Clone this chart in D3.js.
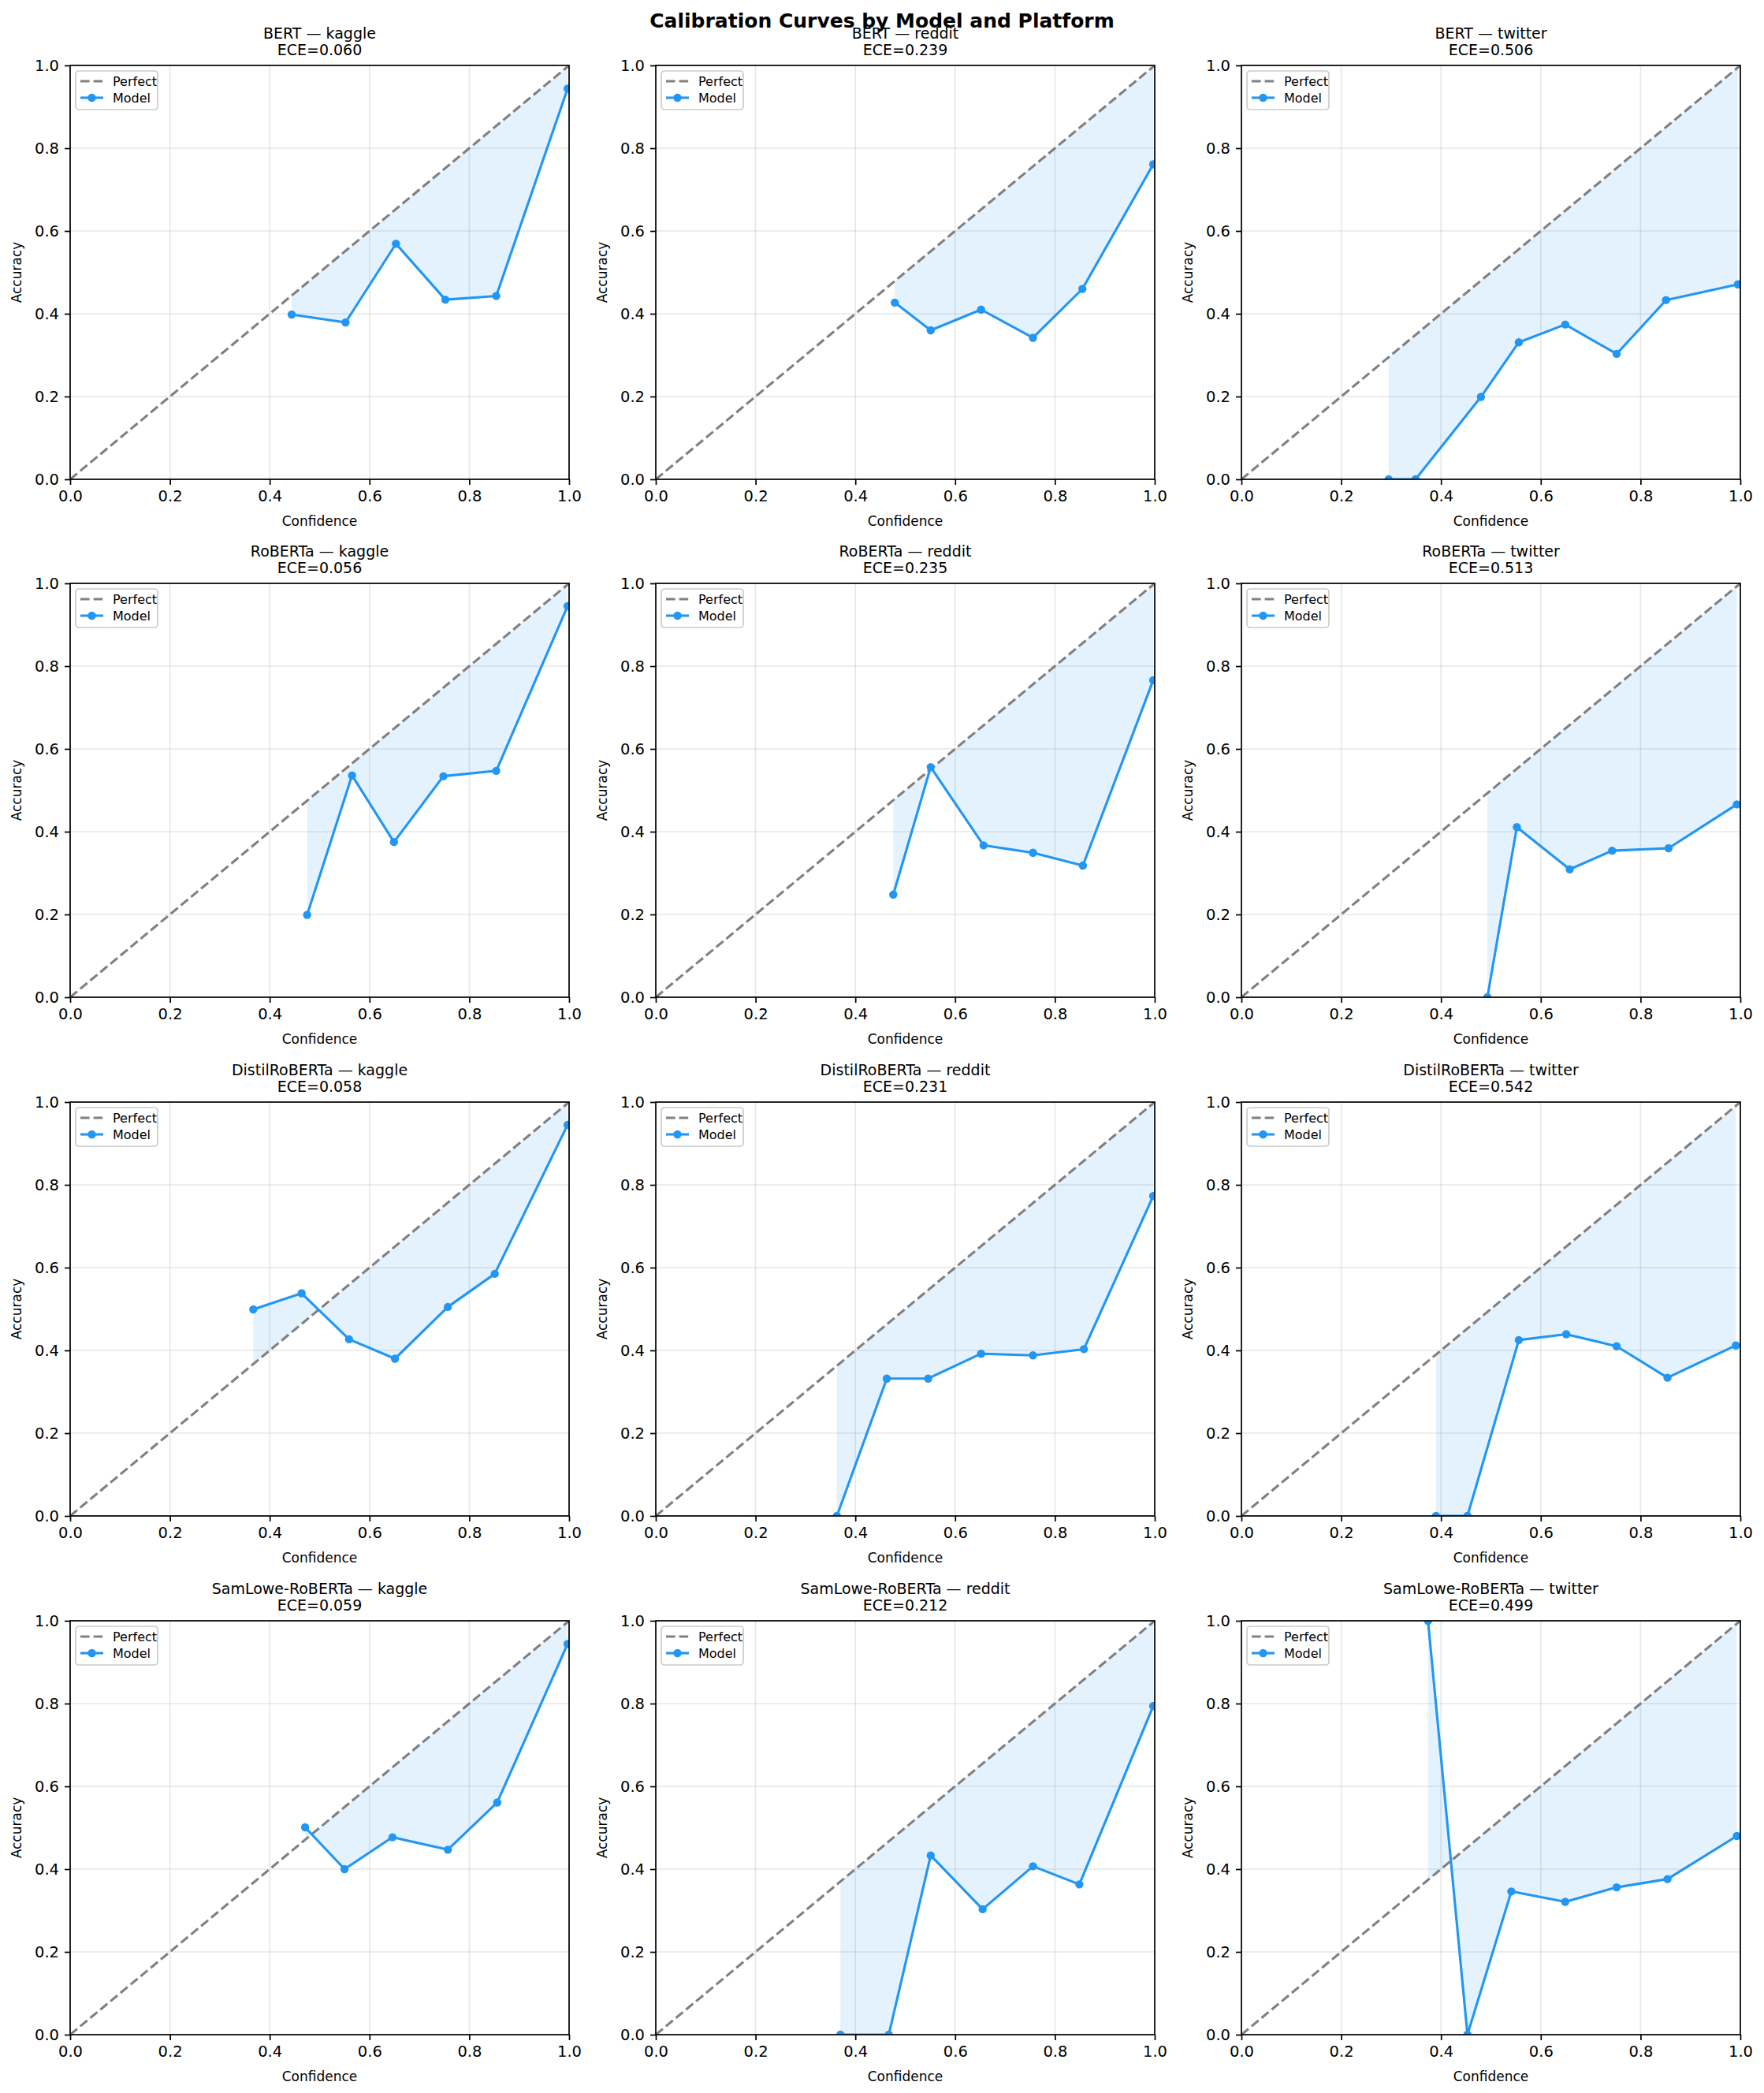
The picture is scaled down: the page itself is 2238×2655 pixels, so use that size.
<!DOCTYPE html>
<html>
<head>
<meta charset="utf-8">
<script src="https://cdn.jsdelivr.net/npm/d3@7"></script>
<style>
  html, body { margin: 0; padding: 0; background: #ffffff; }
  svg { display: block; font-family: "DejaVu Sans", sans-serif; }
</style>
</head>
<body>
<svg id="chart" width="2238" height="2655"></svg>
<script>
// ---------- DATA ----------
const models = ["BERT", "RoBERTa", "DistilRoBERTa", "SamLowe-RoBERTa"];
const platforms = ["kaggle", "reddit", "twitter"];
const chartTitle = "Calibration Curves by Model and Platform";
const tickValues = [0, 0.2, 0.4, 0.6, 0.8, 1.0];

const eceBERT = [0.060, 0.239, 0.506];
const eceRoBERTa = [0.056, 0.235, 0.513];
const eceDistil = [0.058, 0.231, 0.542];
const eceSamLowe = [0.059, 0.212, 0.499];

// confidence (x) per platform [kaggle, reddit, twitter]
const confBERT = [
  [0.444, 0.552, 0.653, 0.752, 0.854, 0.997],
  [0.479, 0.551, 0.652, 0.756, 0.855, 0.997],
  [0.295, 0.349, 0.480, 0.556, 0.649, 0.752, 0.851, 0.995]
];
const accBERT = [
  [0.398, 0.379, 0.569, 0.434, 0.443, 0.944],
  [0.427, 0.360, 0.410, 0.342, 0.460, 0.761],
  [0.000, 0.000, 0.199, 0.331, 0.374, 0.303, 0.433, 0.471]
];
const confRoBERTa = [
  [0.475, 0.565, 0.649, 0.748, 0.854, 0.997],
  [0.476, 0.551, 0.657, 0.756, 0.856, 0.997],
  [0.493, 0.552, 0.658, 0.743, 0.856, 0.993]
];
const accRoBERTa = [
  [0.199, 0.536, 0.375, 0.534, 0.547, 0.945],
  [0.248, 0.556, 0.367, 0.349, 0.318, 0.766],
  [0.000, 0.411, 0.309, 0.354, 0.360, 0.466]
];
const confDistil = [
  [0.367, 0.464, 0.559, 0.651, 0.757, 0.851, 0.997],
  [0.363, 0.463, 0.546, 0.652, 0.756, 0.858, 0.997],
  [0.390, 0.453, 0.556, 0.651, 0.752, 0.854, 0.991]
];
const accDistil = [
  [0.499, 0.538, 0.427, 0.380, 0.505, 0.585, 0.945],
  [0.000, 0.332, 0.332, 0.392, 0.388, 0.403, 0.773],
  [0.000, 0.000, 0.425, 0.439, 0.410, 0.334, 0.412]
];
const confSamLowe = [
  [0.471, 0.550, 0.646, 0.757, 0.856, 0.997],
  [0.370, 0.467, 0.551, 0.655, 0.756, 0.849, 0.997],
  [0.374, 0.453, 0.541, 0.649, 0.752, 0.854, 0.993]
];
const accSamLowe = [
  [0.501, 0.400, 0.477, 0.447, 0.561, 0.944],
  [0.000, 0.000, 0.433, 0.303, 0.407, 0.363, 0.794],
  [1.000, 0.000, 0.346, 0.321, 0.356, 0.376, 0.480]
];

const confByModel = [confBERT, confRoBERTa, confDistil, confSamLowe];
const accByModel = [accBERT, accRoBERTa, accDistil, accSamLowe];
const eceByModel = [eceBERT, eceRoBERTa, eceDistil, eceSamLowe];

// ---------- LAYOUT ----------
const colLeft = [89, 832, 1575];
const rowTop = [83, 740, 1398, 2056];
const axW = 633, axH = 525;
const blue = "#2196F3";

const svg = d3.select("#chart");
svg.append("rect").attr("width", 2238).attr("height", 2655).attr("fill", "#fff");

svg.append("text")
  .attr("x", 1119).attr("y", 35)
  .attr("text-anchor", "middle")
  .attr("font-size", 25).attr("font-weight", "bold")
  .attr("fill", "#000")
  .text(chartTitle);

models.forEach((model, r) => {
  platforms.forEach((plat, c) => {
    const conf = confByModel[r][c];
    const acc = accByModel[r][c];
    const ece = eceByModel[r][c];
    const x0 = colLeft[c], y0 = rowTop[r];
    const g = svg.append("g").attr("transform", `translate(${x0},${y0})`);
    const x = d3.scaleLinear().domain([0, 1]).range([0, axW]);
    const y = d3.scaleLinear().domain([0, 1]).range([axH, 0]);
    const clipId = `clip-${r}-${c}`;
    g.append("clipPath").attr("id", clipId)
      .append("rect").attr("width", axW).attr("height", axH);

    // grid
    const grid = g.append("g");
    tickValues.forEach(t => {
      grid.append("line").attr("x1", x(t)).attr("x2", x(t)).attr("y1", 0).attr("y2", axH)
        .attr("stroke", "#b0b0b0").attr("stroke-opacity", 0.3).attr("stroke-width", 1.6);
      grid.append("line").attr("y1", y(t)).attr("y2", y(t)).attr("x1", 0).attr("x2", axW)
        .attr("stroke", "#b0b0b0").attr("stroke-opacity", 0.3).attr("stroke-width", 1.6);
    });

    const plot = g.append("g").attr("clip-path", `url(#${clipId})`);

    // fill between perfect diagonal and model curve
    const pts = conf.map((cv, i) => ({ c: cv, a: acc[i] }));
    const area = d3.area().x(d => x(d.c)).y0(d => y(d.c)).y1(d => y(d.a));
    plot.append("path").datum(pts).attr("d", area)
      .attr("fill", blue).attr("fill-opacity", 0.12).attr("stroke", "none");

    // perfect diagonal
    plot.append("line").attr("x1", x(0)).attr("y1", y(0)).attr("x2", x(1)).attr("y2", y(1))
      .attr("stroke", "#808080").attr("stroke-width", 3.1)
      .attr("stroke-dasharray", "11.6,5");

    // model line
    const line = d3.line().x(d => x(d.c)).y(d => y(d.a));
    plot.append("path").datum(pts).attr("d", line)
      .attr("fill", "none").attr("stroke", blue).attr("stroke-width", 3.1)
      .attr("stroke-linejoin", "round");
    plot.selectAll("circle.pt").data(pts).enter().append("circle")
      .attr("class", "pt")
      .attr("cx", d => x(d.c)).attr("cy", d => y(d.a)).attr("r", 5.2)
      .attr("fill", blue);

    // axes
    const xAxis = d3.axisBottom(x).tickValues(tickValues).tickFormat(d3.format(".1f"))
      .tickSize(7).tickPadding(7);
    const yAxis = d3.axisLeft(y).tickValues(tickValues).tickFormat(d3.format(".1f"))
      .tickSize(7).tickPadding(7);
    const gx = g.append("g").attr("transform", `translate(0,${axH})`).call(xAxis);
    const gy = g.append("g").call(yAxis);
    [gx, gy].forEach(ax => {
      ax.select(".domain").remove();
      ax.selectAll(".tick line").attr("stroke", "#000").attr("stroke-width", 1.7);
      ax.selectAll(".tick text").attr("font-size", 19.5).attr("fill", "#000")
        .attr("font-family", "DejaVu Sans");
    });

    // spines
    g.append("rect").attr("width", axW).attr("height", axH)
      .attr("fill", "none").attr("stroke", "#000").attr("stroke-width", 1.7);

    // axis labels
    g.append("text").attr("x", axW / 2).attr("y", axH + 59)
      .attr("text-anchor", "middle").attr("font-size", 17).attr("fill", "#000")
      .text("Confidence");
    g.append("text")
      .attr("transform", `translate(${-62},${axH / 2}) rotate(-90)`)
      .attr("text-anchor", "middle").attr("font-size", 17).attr("fill", "#000")
      .text("Accuracy");

    // subplot title
    g.append("text").attr("x", axW / 2).attr("y", -34)
      .attr("text-anchor", "middle").attr("font-size", 19).attr("fill", "#000")
      .text(`${model} — ${plat}`);
    g.append("text").attr("x", axW / 2).attr("y", -13)
      .attr("text-anchor", "middle").attr("font-size", 19).attr("fill", "#000")
      .text(`ECE=${ece.toFixed(3)}`);

    // legend
    const lg = g.append("g").attr("transform", "translate(7,7)");
    lg.append("rect").attr("width", 104).attr("height", 49).attr("rx", 4)
      .attr("fill", "#fff").attr("fill-opacity", 0.8)
      .attr("stroke", "#cccccc").attr("stroke-width", 1.7);
    lg.append("line").attr("x1", 6).attr("x2", 35).attr("y1", 13).attr("y2", 13)
      .attr("stroke", "#808080").attr("stroke-width", 3.1).attr("stroke-dasharray", "11.6,5");
    lg.append("text").attr("x", 47).attr("y", 13).attr("dy", "0.35em")
      .attr("font-size", 16).attr("fill", "#000").text("Perfect");
    lg.append("line").attr("x1", 6).attr("x2", 35).attr("y1", 34).attr("y2", 34)
      .attr("stroke", blue).attr("stroke-width", 3.1);
    lg.append("circle").attr("cx", 20.5).attr("cy", 34).attr("r", 5.2).attr("fill", blue);
    lg.append("text").attr("x", 47).attr("y", 34).attr("dy", "0.35em")
      .attr("font-size", 16).attr("fill", "#000").text("Model");
  });
});
</script>
</body>
</html>
